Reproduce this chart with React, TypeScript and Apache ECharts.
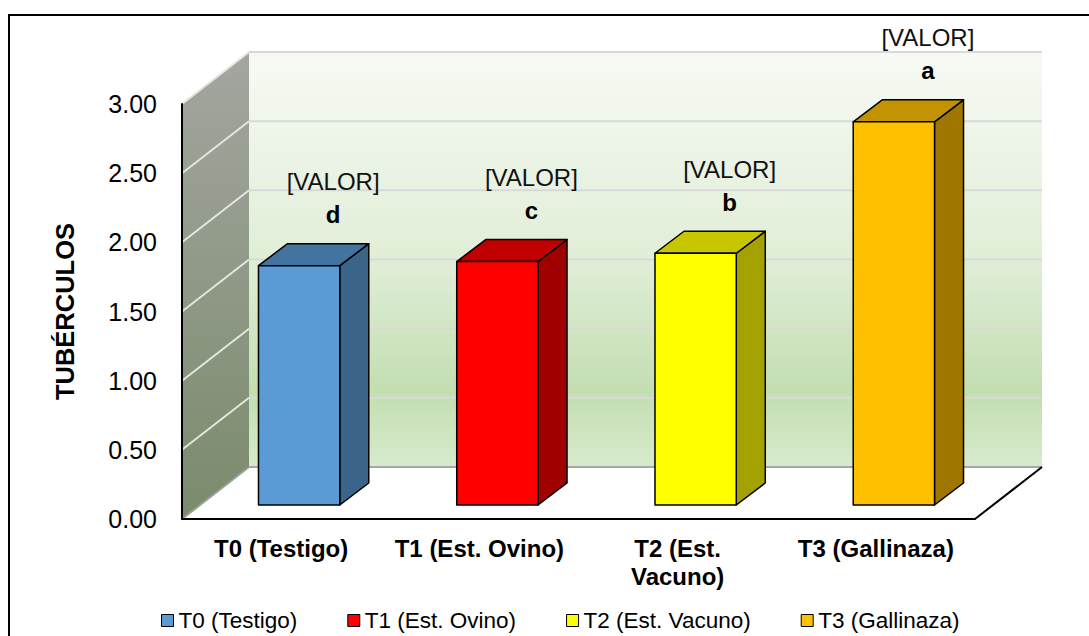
import React, { useEffect, useRef } from "react";
import * as echarts from "echarts";

const categories = ["T0 (Testigo)", "T1 (Est. Ovino)", "T2 (Est. Vacuno)", "T3 (Gallinaza)"];
const axisLabels = ["T0 (Testigo)", "T1 (Est. Ovino)", "T2 (Est.\nVacuno)", "T3 (Gallinaza)"];
const values = [1.73, 1.76, 1.82, 2.77];
const letters = ["d", "c", "b", "a"];
const valueLabel = "[VALOR]";
const yTicks = [0, 0.5, 1, 1.5, 2, 2.5, 3];
const yAxisName = "TUBÉRCULOS";

const frontColors = ["#5B9BD5", "#FF0000", "#FFFF00", "#FFC000"];
const topColors = ["#43739F", "#C00000", "#C8C600", "#C29200"];
const sideColors = ["#3A6588", "#A00000", "#A3A200", "#9E7600"];

const FONT = '"Liberation Sans", Arial, sans-serif';
// 3D depth of the whole plot box and bar placement within it
const WD = 67;
const WDY = -52;
const BAR_OFF_X = 18;
const BAR_OFF_Y = -14;
const BAR_DX = 29;
const BAR_DY = -22;

function wallsRender(params: any, api: any) {
  const cs = params.coordSys;
  const x0 = cs.x;
  const x1 = cs.x + cs.width;
  const yTop = cs.y;
  const y0 = cs.y + cs.height;
  const children: any[] = [];
  children.push({
    type: "polygon",
    shape: { points: [[x0, y0], [x0, yTop], [x0 + WD, yTop + WDY], [x0 + WD, y0 + WDY]] },
    style: {
      fill: new echarts.graphic.LinearGradient(0, 0, 0, 1, [
        { offset: 0, color: "#A4A6A0" },
        { offset: 1, color: "#7A8B6C" },
      ]),
    },
  });
  children.push({
    type: "rect",
    shape: { x: x0 + WD, y: yTop + WDY, width: x1 - x0, height: y0 - yTop },
    style: {
      fill: new echarts.graphic.LinearGradient(0, 0, 0, 1, [
        { offset: 0, color: "#F7FAF4" },
        { offset: 0.5, color: "#E0EED7" },
        { offset: 0.82, color: "#C3DEB1" },
        { offset: 1, color: "#D7EBCC" },
      ]),
    },
  });
  yTicks.forEach((t) => {
    const y = api.coord([0, t])[1];
    children.push({
      type: "line",
      shape: { x1: x0, y1: y, x2: x0 + WD, y2: y + WDY },
      style: { stroke: t === 0 ? "#9AA08F" : "#E4E6E0", lineWidth: 2 },
    });
    children.push({
      type: "line",
      shape: { x1: x0 + WD, y1: y + WDY, x2: x1 + WD, y2: y + WDY },
      style: { stroke: t === 0 ? "#A6A6A6" : "#D9D9D9", lineWidth: 2 },
    });
  });
  children.push({
    type: "line",
    shape: { x1: x1, y1: y0, x2: x1 + WD, y2: y0 + WDY },
    style: { stroke: "#000", lineWidth: 2 },
  });
  return { type: "group", children };
}

function makeBarRender(i: number) {
  return (params: any, api: any) => {
    const idx = api.value(0);
    const v = api.value(1);
    const top = api.coord([idx, v]);
    const base = api.coord([idx, 0]);
    const band = api.size([1, 0])[0];
    const w = band * 0.41;
    const xl = top[0] - w / 2 + BAR_OFF_X;
    const xr = xl + w;
    const yt = top[1] + BAR_OFF_Y;
    const yb = base[1] + BAR_OFF_Y;
    const stroke = { stroke: "#000", lineWidth: 1.5, lineJoin: "round" };
    return {
      type: "group",
      children: [
        {
          type: "polygon",
          shape: { points: [[xr, yb], [xr, yt], [xr + BAR_DX, yt + BAR_DY], [xr + BAR_DX, yb + BAR_DY]] },
          style: { fill: sideColors[i], ...stroke },
        },
        {
          type: "polygon",
          shape: { points: [[xl, yt], [xl + BAR_DX, yt + BAR_DY], [xr + BAR_DX, yt + BAR_DY], [xr, yt]] },
          style: { fill: topColors[i], ...stroke },
        },
        {
          type: "rect",
          shape: { x: xl, y: yt, width: w, height: yb - yt },
          style: { fill: frontColors[i], ...stroke },
        },
        {
          type: "text",
          x: top[0] + 52,
          y: yt - 84,
          style: {
            text: valueLabel,
            fill: "#111",
            fontSize: 24,
            fontFamily: FONT,
            align: "center",
            verticalAlign: "middle",
          },
        },
        {
          type: "text",
          x: top[0] + 52,
          y: yt - 51,
          style: {
            text: letters[i],
            fill: "#000",
            fontSize: 24,
            fontWeight: "bold",
            fontFamily: FONT,
            align: "center",
            verticalAlign: "middle",
          },
        },
      ],
    };
  };
}

export default function App() {
  const ref = useRef<HTMLDivElement>(null);
  useEffect(() => {
    if (!ref.current) return;
    const chart = echarts.init(ref.current, null, { renderer: "svg" });
    const barSeries = categories.map((name, i) => ({
      type: "custom",
      name,
      color: frontColors[i],
      z: 3,
      clip: false,
      renderItem: makeBarRender(i),
      encode: { x: 0, y: 1 },
      data: [[i, values[i]]],
    }));
    chart.setOption({
      animation: false,
      backgroundColor: "#FFFFFF",
      textStyle: { fontFamily: FONT },
      grid: { left: 182, right: 114, top: 104, bottom: 117, containLabel: false },
      xAxis: {
        type: "category",
        data: categories,
        z: 10,
        axisLine: { show: true, lineStyle: { color: "#000", width: 2 } },
        axisTick: { show: false },
        splitLine: { show: false },
        axisLabel: {
          interval: 0,
          margin: 15,
          color: "#000",
          fontSize: 24,
          fontWeight: "bold",
          fontFamily: FONT,
          lineHeight: 28,
          formatter: (_v: string, idx: number) => axisLabels[idx],
        },
      },
      yAxis: {
        type: "value",
        min: 0,
        max: 3,
        interval: 0.5,
        z: 10,
        name: yAxisName,
        nameLocation: "middle",
        nameRotate: 90,
        nameGap: 104,
        nameTextStyle: { fontSize: 25.5, fontWeight: "bold", color: "#000", fontFamily: FONT },
        axisLine: { show: true, lineStyle: { color: "#000", width: 2 } },
        axisTick: { show: false },
        splitLine: { show: false },
        axisLabel: {
          margin: 25,
          color: "#000",
          fontSize: 25,
          fontFamily: FONT,
          formatter: (v: number) => v.toFixed(2),
        },
      },
      legend: {
        left: 156,
        top: 604,
        icon: "rect",
        itemWidth: 12,
        itemHeight: 12,
        itemGap: 50,
        textStyle: { fontSize: 22.5, color: "#000", fontFamily: FONT },
        data: categories.map((name, i) => ({
          name,
          itemStyle: { color: frontColors[i], borderColor: "#000", borderWidth: 1 },
        })),
      },
      graphic: [
        {
          type: "rect",
          z: 100,
          shape: { x: 9, y: 15, width: 1100, height: 640 },
          style: { fill: "none", stroke: "#000", lineWidth: 2 },
        },
      ],
      series: [
        {
          type: "custom",
          name: "walls",
          z: 1,
          clip: false,
          silent: true,
          renderItem: wallsRender,
          encode: { x: 0, y: 1 },
          data: [[0, 0]],
        },
        ...barSeries,
      ],
    });
    return () => chart.dispose();
  }, []);
  return <div ref={ref} style={{ position: "fixed", left: 0, top: 0, width: 1089, height: 636 }} />;
}
